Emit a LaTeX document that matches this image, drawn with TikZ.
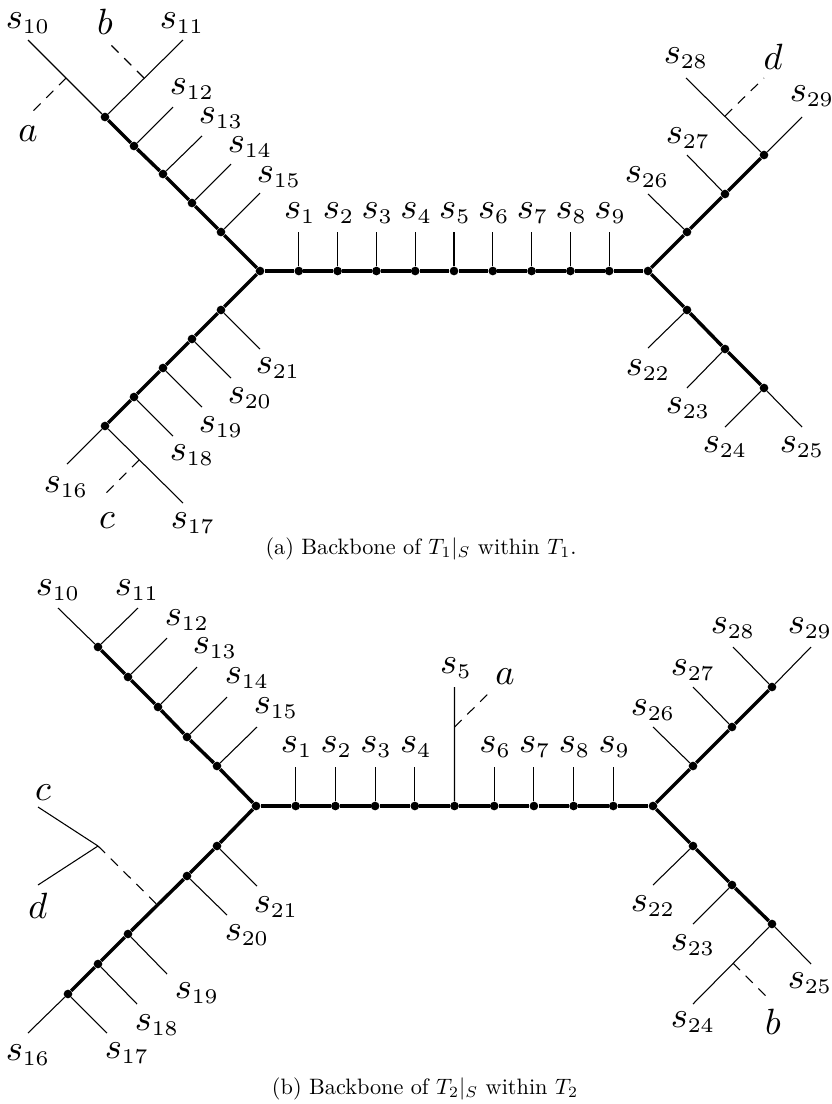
\RequirePackage{fix-cm}
\documentclass[tikz,border=0pt]{standalone}
\usepackage{graphicx}
\DeclareMathSizes{11}{11}{6.3}{5}
\newcommand{\lbl}[1]{\scalebox{2.49}{$#1$}}
\newcommand{\captext}[1]{\scalebox{1.67}{#1}}
\begin{document}
\begin{tikzpicture}[x=0.75pt,y=-0.75pt,
  thinl/.style={line width=0.8pt},
  thickl/.style={line width=2.6pt},
  dashl/.style={line width=0.8pt, dash pattern=on 7.5pt off 6pt},
  dot/.style={circle,fill=black,inner sep=0pt,minimum size=6.5pt},
  lab/.style={inner sep=0pt,font=\fontsize{11}{13}\selectfont},
  captxt/.style={inner sep=0pt,font=\fontsize{10}{12}\selectfont}]
\useasboundingbox (0,0) rectangle (832,1104);

% ================= (a) =================
\node[dot] (aL) at (260,271) {};
\node[dot] (aR) at (648,271) {};
\foreach \k in {1,...,9} { \node[dot] (ah\k) at ({260+38.8*\k},271) {}; }
\node[dot] (at15) at (221,232) {};
\node[dot] (at14) at (192,203) {};
\node[dot] (at13) at (163,174) {};
\node[dot] (at12) at (134,146) {};
\node[dot] (at10) at (105,117) {};
\node[dot] (ab21) at (221,310) {};
\node[dot] (ab20) at (192,339) {};
\node[dot] (ab19) at (163,368) {};
\node[dot] (ab18) at (134,397) {};
\node[dot] (ab16) at (105,426) {};
\node[dot] (aru26) at (687,232) {};
\node[dot] (aru27) at (725,194) {};
\node[dot] (aru28) at (764,155) {};
\node[dot] (ard22) at (687,310) {};
\node[dot] (ard23) at (725,349) {};
\node[dot] (ard24) at (764,388) {};
\draw[thickl] (at10) -- (at12) -- (at13) -- (at14) -- (at15) -- (aL);
\draw[thickl] (ab16) -- (ab18) -- (ab19) -- (ab20) -- (ab21) -- (aL);
\draw[thickl] (aL) -- (ah1) -- (ah2) -- (ah3) -- (ah4) -- (ah5) -- (ah6) -- (ah7) -- (ah8) -- (ah9) -- (aR);
\draw[thickl] (aR) -- (aru26) -- (aru27) -- (aru28);
\draw[thickl] (aR) -- (ard22) -- (ard23) -- (ard24);
\foreach \k in {1,...,9} {
  \coordinate (ahe\k) at ({260+38.8*\k},232);
  \draw[thinl] (ah\k) -- (ahe\k);
  \node[lab] (ahl\k) at ({261+38.8*\k},213) {\lbl{s_{\k}}};
}
\coordinate (ae10) at (28,40);
\coordinate (ae11) at (183,40);
\coordinate (aja) at (66,78);
\coordinate (aea) at (32,112);
\coordinate (ajb) at (144,78);
\coordinate (aeb) at (110,44);
\draw[thinl] (at10) -- (ae10);
\draw[thinl] (at10) -- (ae11);
\draw[dashl] (aja) -- (aea);
\draw[dashl] (ajb) -- (aeb);
\node[lab] (al10) at (28,23) {\lbl{s_{10}}};
\node[lab] (al11) at (182,23) {\lbl{s_{11}}};
\node[lab] (ala) at (28,134) {\lbl{a}};
\node[lab] (alb) at (105,22) {\lbl{b}};
\coordinate (ae12) at (173,107);
\coordinate (ae13) at (202,136);
\coordinate (ae14) at (231,164);
\coordinate (ae15) at (260,193);
\draw[thinl] (at12) -- (ae12);
\draw[thinl] (at13) -- (ae13);
\draw[thinl] (at14) -- (ae14);
\draw[thinl] (at15) -- (ae15);
\node[lab] (al12) at (192,89) {\lbl{s_{12}}};
\node[lab] (al13) at (221,118) {\lbl{s_{13}}};
\node[lab] (al14) at (250,147) {\lbl{s_{14}}};
\node[lab] (al15) at (279,177) {\lbl{s_{15}}};
\coordinate (ae21) at (260,349);
\coordinate (ae20) at (231,378);
\coordinate (ae19) at (202,407);
\coordinate (ae18) at (173,436);
\coordinate (ae16) at (67,464);
\coordinate (ae17) at (183,503);
\coordinate (ajc) at (139,460);
\coordinate (aec) at (105,494);
\draw[thinl] (ab21) -- (ae21);
\draw[thinl] (ab20) -- (ae20);
\draw[thinl] (ab19) -- (ae19);
\draw[thinl] (ab18) -- (ae18);
\draw[thinl] (ab16) -- (ae16);
\draw[thinl] (ab16) -- (ae17);
\draw[dashl] (ajc) -- (aec);
\node[lab] (al21) at (278,368) {\lbl{s_{21}}};
\node[lab] (al20) at (250,398) {\lbl{s_{20}}};
\node[lab] (al19) at (221,427) {\lbl{s_{19}}};
\node[lab] (al18) at (192,455) {\lbl{s_{18}}};
\node[lab] (al16) at (66,487) {\lbl{s_{16}}};
\node[lab] (al17) at (193,523) {\lbl{s_{17}}};
\node[lab] (alc) at (107,521) {\lbl{c}};
\coordinate (ae26) at (648,194);
\coordinate (ae27) at (687,155);
\coordinate (ae28) at (686,78);
\coordinate (ae29) at (802,117);
\coordinate (ajd) at (725,116);
\coordinate (aed) at (764,78);
\draw[thinl] (aru26) -- (ae26);
\draw[thinl] (aru27) -- (ae27);
\draw[thinl] (aru28) -- (ae28);
\draw[thinl] (aru28) -- (ae29);
\draw[dashl] (ajd) -- (aed);
\node[lab] (al26) at (647,177) {\lbl{s_{26}}};
\node[lab] (al27) at (688,138) {\lbl{s_{27}}};
\node[lab] (al28) at (686,58) {\lbl{s_{28}}};
\node[lab] (al29) at (812,96) {\lbl{s_{29}}};
\node[lab] (ald) at (773,57) {\lbl{d}};
\coordinate (ae22) at (648,348);
\coordinate (ae23) at (687,388);
\coordinate (ae24) at (725,427);
\coordinate (ae25) at (802,427);
\draw[thinl] (ard22) -- (ae22);
\draw[thinl] (ard23) -- (ae23);
\draw[thinl] (ard24) -- (ae24);
\draw[thinl] (ard24) -- (ae25);
\node[lab] (al22) at (648,370) {\lbl{s_{22}}};
\node[lab] (al23) at (688,408) {\lbl{s_{23}}};
\node[lab] (al24) at (725,447) {\lbl{s_{24}}};
\node[lab] (al25) at (802,447) {\lbl{s_{25}}};
\node[captxt] (capa) at (421,549) {\captext{(a) Backbone of $T_1|_S$ within $T_1$.}};

% ================= (b) =================
\node[dot] (bL) at (256,806) {};
\node[dot] (bR) at (653,806) {};
\foreach \k in {1,...,9} { \node[dot] (bh\k) at ({256+39.7*\k},806) {}; }
\node[dot] (bt15) at (217,766) {};
\node[dot] (bt14) at (187,737) {};
\node[dot] (bt13) at (158,707) {};
\node[dot] (bt12) at (128,677) {};
\node[dot] (bt10) at (98,647) {};
\node[dot] (bb21) at (217,846) {};
\node[dot] (bb20) at (187,876) {};
\node[dot] (bb19) at (128,934) {};
\node[dot] (bb18) at (98,964) {};
\node[dot] (bb16) at (68,994) {};
\node[dot] (bru26) at (693,766) {};
\node[dot] (bru27) at (732,727) {};
\node[dot] (bru28) at (772,687) {};
\node[dot] (brd22) at (693,846) {};
\node[dot] (brd23) at (732,885) {};
\node[dot] (brd24) at (772,924) {};
\draw[thickl] (bt10) -- (bt12) -- (bt13) -- (bt14) -- (bt15) -- (bL);
\draw[thickl] (bb16) -- (bb18) -- (bb19) -- (bb20) -- (bb21) -- (bL);
\draw[thickl] (bL) -- (bh1) -- (bh2) -- (bh3) -- (bh4) -- (bh5) -- (bh6) -- (bh7) -- (bh8) -- (bh9) -- (bR);
\draw[thickl] (bR) -- (bru26) -- (bru27) -- (bru28);
\draw[thickl] (bR) -- (brd22) -- (brd23) -- (brd24);
\foreach \k in {1,2,3,4,6,7,8,9} {
  \coordinate (bhe\k) at ({256+39.7*\k},767);
  \draw[thinl] (bh\k) -- (bhe\k);
  \node[lab] (bhl\k) at ({257+39.7*\k},747) {\lbl{s_{\k}}};
}
\coordinate (bhe5) at (454.5,687);
\coordinate (bja) at (454.5,727);
\coordinate (bea) at (490,692);
\draw[thinl] (bh5) -- (bhe5);
\draw[dashl] (bja) -- (bea);
\node[lab] (bhl5) at (456,668) {\lbl{s_{5}}};
\node[lab] (bla) at (505,677) {\lbl{a}};
\coordinate (be10) at (58,608);
\coordinate (be11) at (138,608);
\coordinate (be12) at (167,638);
\coordinate (be13) at (197,667);
\coordinate (be14) at (227,697);
\coordinate (be15) at (257,727);
\draw[thinl] (bt10) -- (be10);
\draw[thinl] (bt10) -- (be11);
\draw[thinl] (bt12) -- (be12);
\draw[thinl] (bt13) -- (be13);
\draw[thinl] (bt14) -- (be14);
\draw[thinl] (bt15) -- (be15);
\node[lab] (bl10) at (58,590) {\lbl{s_{10}}};
\node[lab] (bl11) at (137,590) {\lbl{s_{11}}};
\node[lab] (bl12) at (187,620) {\lbl{s_{12}}};
\node[lab] (bl13) at (215,648) {\lbl{s_{13}}};
\node[lab] (bl14) at (247,678) {\lbl{s_{14}}};
\node[lab] (bl15) at (276,708) {\lbl{s_{15}}};
\coordinate (be21) at (257,886);
\coordinate (be20) at (227,915);
\coordinate (be19) at (167,974);
\coordinate (be18) at (137,1004);
\coordinate (be16) at (28,1033);
\coordinate (be17) at (107,1033);
\draw[thinl] (bb21) -- (be21);
\draw[thinl] (bb20) -- (be20);
\draw[thinl] (bb19) -- (be19);
\draw[thinl] (bb18) -- (be18);
\draw[thinl] (bb16) -- (be16);
\draw[thinl] (bb16) -- (be17);
\node[lab] (bl21) at (276,907) {\lbl{s_{21}}};
\node[lab] (bl20) at (247,935) {\lbl{s_{20}}};
\node[lab] (bl19) at (197,993) {\lbl{s_{19}}};
\node[lab] (bl18) at (157,1025) {\lbl{s_{18}}};
\node[lab] (bl16) at (28,1055) {\lbl{s_{16}}};
\node[lab] (bl17) at (127,1053) {\lbl{s_{17}}};
\coordinate (bjcd) at (98,846);
\coordinate (bec) at (38,807);
\coordinate (bed) at (38,885);
\coordinate (bbx) at (157.5,905);
\draw[thinl] (bjcd) -- (bec);
\draw[thinl] (bjcd) -- (bed);
\draw[dashl] (bjcd) -- (bbx);
\node[lab] (blc) at (43,793) {\lbl{c}};
\node[lab] (bld) at (38,906) {\lbl{d}};
\coordinate (be26) at (653,727);
\coordinate (be27) at (693,687);
\coordinate (be28) at (733,647);
\coordinate (be29) at (811,647);
\draw[thinl] (bru26) -- (be26);
\draw[thinl] (bru27) -- (be27);
\draw[thinl] (bru28) -- (be28);
\draw[thinl] (bru28) -- (be29);
\node[lab] (bl26) at (653,710) {\lbl{s_{26}}};
\node[lab] (bl27) at (693,670) {\lbl{s_{27}}};
\node[lab] (bl28) at (733,628) {\lbl{s_{28}}};
\node[lab] (bl29) at (810,628) {\lbl{s_{29}}};
\coordinate (be22) at (653,885);
\coordinate (be23) at (693,924);
\coordinate (be24) at (693,1004);
\coordinate (be25) at (811,964);
\coordinate (bjb) at (733,963);
\coordinate (beb) at (768,998);
\draw[thinl] (brd22) -- (be22);
\draw[thinl] (brd23) -- (be23);
\draw[thinl] (brd24) -- (be24);
\draw[thinl] (brd24) -- (be25);
\draw[dashl] (bjb) -- (beb);
\node[lab] (bl22) at (653,906) {\lbl{s_{22}}};
\node[lab] (bl23) at (693,945) {\lbl{s_{23}}};
\node[lab] (bl24) at (693,1022) {\lbl{s_{24}}};
\node[lab] (bl25) at (810,983) {\lbl{s_{25}}};
\node[lab] (blb) at (773,1022) {\lbl{b}};
\node[captxt] (capb) at (425,1089) {\captext{(b) Backbone of $T_2|_S$ within $T_2$}};
\end{tikzpicture}
\end{document}
